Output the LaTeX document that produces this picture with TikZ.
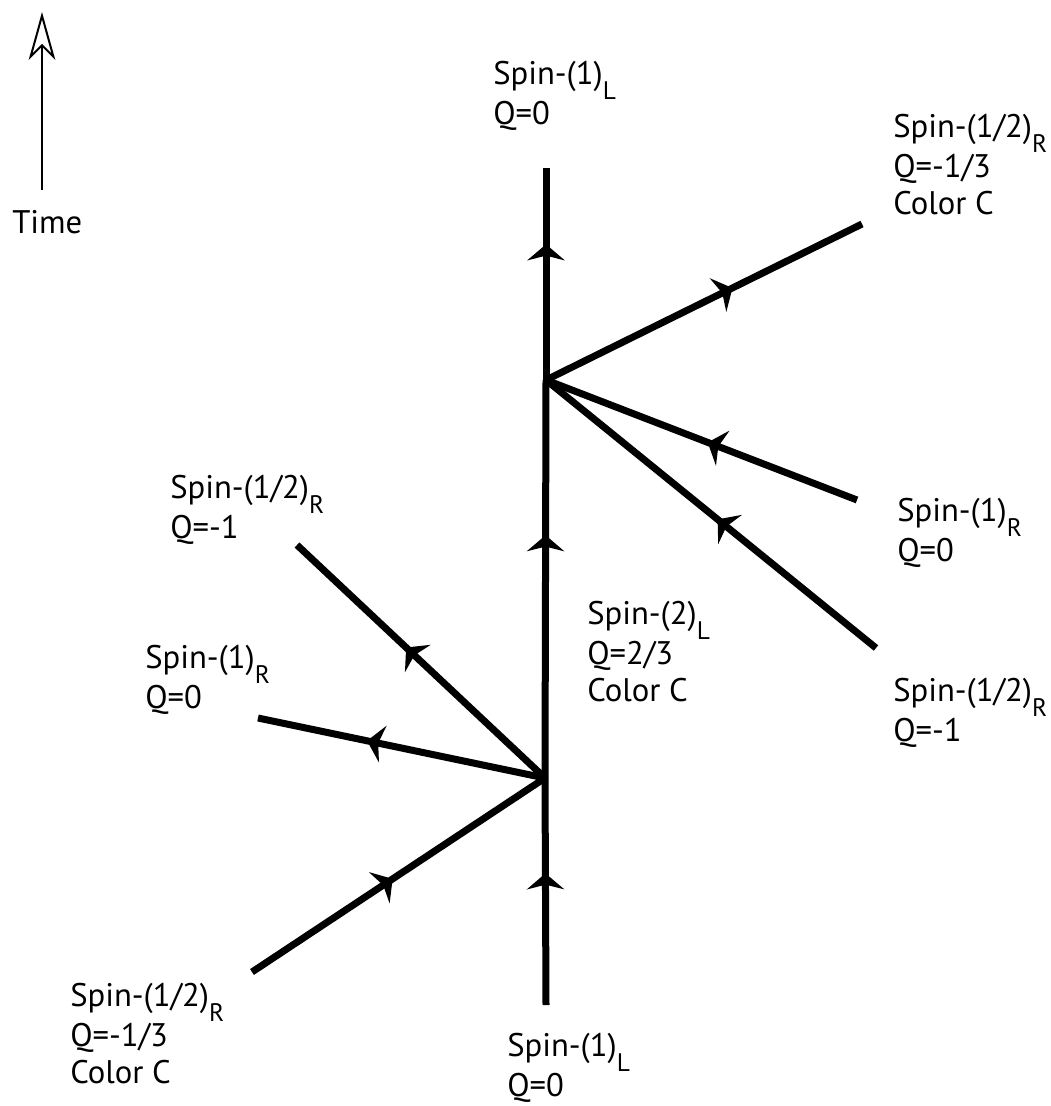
\documentclass[tikz,border=0pt]{standalone}
\usepackage{fontspec}
\setmainfont{PT Sans}
\usetikzlibrary{arrows.meta,decorations.markings}
\newcommand{\subsc}[1]{\raisebox{-0.45em}{\fontsize{19}{19}\selectfont #1}}
\tikzset{
  particle/.style={line width=5.25pt},
  midarrow/.style={postaction={decorate,decoration={markings,
     mark=at position #1 with {\arrow{Stealth[length=12pt,width=28pt,inset=3.5pt]}}}}},
  lbl/.style={anchor=base west,align=left,inner sep=0pt,
     font=\fontsize{24.5}{27.75}\selectfont},
}
\begin{document}
\begin{tikzpicture}[x=0.75pt,y=-0.75pt]
\useasboundingbox (0,0) rectangle (1050,1106);
% coordinates
\coordinate (vtop) at (546,168);
\coordinate (v1) at (546,380);
\coordinate (v2) at (545,778);
\coordinate (vbot) at (546,1005);
\coordinate (r1) at (862,224);
\coordinate (r2) at (857,500);
\coordinate (r3) at (876,648);
\coordinate (l1) at (297,545);
\coordinate (l2) at (258,718);
\coordinate (l3) at (252,972);
\coordinate (t0) at (42,190);
\coordinate (t1) at (42,12);
% time arrow
\draw[line width=1.5pt,-{Stealth[open,length=36pt,width=20pt,inset=10pt]}] (t0) -- (t1);
% vertical line
\draw[particle,midarrow=0.64] (v1) -- (vtop);
\draw[particle,midarrow=0.61] (v2) -- (v1);
\draw[particle,midarrow=0.58] (vbot) -- (v2);
% upper vertex lines
\draw[particle,midarrow=0.59] (v1) -- (r1);
\draw[particle,midarrow=0.48] (r2) -- (v1);
\draw[particle,midarrow=0.48] (r3) -- (v1);
% lower vertex lines
\draw[particle,midarrow=0.56] (v2) -- (l1);
\draw[particle,midarrow=0.62] (v2) -- (l2);
\draw[particle,midarrow=0.48] (l3) -- (v2);
% labels (anchored at baseline of last line)
\node[lbl] (time) at (12,233) {Time};
\node[lbl] (ltop) at (493,124) {Spin-(1)\subsc{L}\\Q=0};
\node[lbl] (ltr) at (893,214) {Spin-(1/2)\subsc{R}\\Q=-1/3\\Color C};
\node[lbl] (lrm) at (897,561) {Spin-(1)\subsc{R}\\Q=0};
\node[lbl] (lcen) at (587,701) {Spin-(2)\subsc{L}\\Q=2/3\\Color C};
\node[lbl] (lrb) at (893,741) {Spin-(1/2)\subsc{R}\\Q=-1};
\node[lbl] (llt) at (170,538) {Spin-(1/2)\subsc{R}\\Q=-1};
\node[lbl] (llm) at (145,708) {Spin-(1)\subsc{R}\\Q=0};
\node[lbl] (llb) at (70,1083) {Spin-(1/2)\subsc{R}\\Q=-1/3\\Color C};
\node[lbl] (lbot) at (507,1096) {Spin-(1)\subsc{L}\\Q=0};
\end{tikzpicture}
\end{document}
